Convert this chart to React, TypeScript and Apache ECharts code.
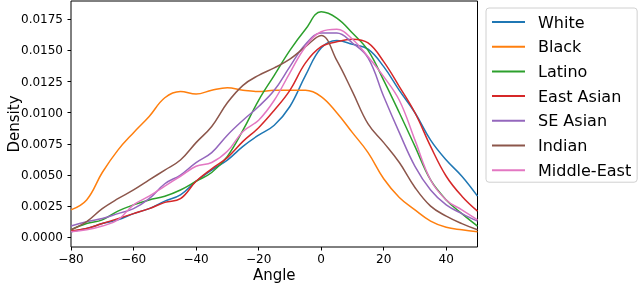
import React, { useEffect, useRef } from "react";
import * as echarts from "echarts";

const xs = [-80, -75, -70, -65, -60, -55, -50, -45, -40, -35, -30, -25, -20, -15, -10, -5, 0, 5, 10, 15, 20, 25, 30, 35, 40, 45, 50];

const white = [0.00045, 0.0007, 0.0011, 0.0014, 0.0019, 0.0023, 0.0029, 0.0034, 0.0045, 0.0054, 0.0062, 0.0073, 0.0082, 0.009, 0.0105, 0.013, 0.0152, 0.0158, 0.0155, 0.0151, 0.0137, 0.0118, 0.01, 0.0078, 0.0062, 0.0049, 0.0033];
const black = [0.0022, 0.003, 0.0052, 0.007, 0.0084, 0.0097, 0.0112, 0.0117, 0.0115, 0.0118, 0.012, 0.0118, 0.0117, 0.0118, 0.0118, 0.0118, 0.0113, 0.01, 0.0084, 0.0068, 0.0047, 0.0032, 0.0022, 0.0013, 0.0008, 0.0006, 0.00045];
const latino = [0.0006, 0.0011, 0.0014, 0.0021, 0.0026, 0.003, 0.0033, 0.0038, 0.0045, 0.0052, 0.0065, 0.0086, 0.011, 0.013, 0.015, 0.0167, 0.0181, 0.0176, 0.0164, 0.015, 0.0126, 0.01, 0.0073, 0.0046, 0.003, 0.0019, 0.0009];
const eastAsian = [0.0005, 0.0007, 0.0011, 0.0015, 0.0019, 0.0023, 0.0028, 0.0031, 0.0045, 0.0055, 0.0064, 0.0077, 0.0088, 0.0102, 0.0118, 0.014, 0.0153, 0.0157, 0.0159, 0.0156, 0.0141, 0.0121, 0.01, 0.0073, 0.0049, 0.0033, 0.0021];
const seAsian = [0.0009, 0.00125, 0.0015, 0.0019, 0.0023, 0.0031, 0.0043, 0.005, 0.006, 0.0068, 0.0082, 0.0094, 0.0105, 0.0118, 0.0137, 0.0155, 0.0164, 0.0164, 0.0156, 0.0144, 0.0113, 0.0084, 0.0057, 0.0038, 0.0026, 0.0019, 0.0013];
const indian = [0.0006, 0.00125, 0.0023, 0.0031, 0.0038, 0.0046, 0.0054, 0.0062, 0.0076, 0.0089, 0.0108, 0.0122, 0.013, 0.0136, 0.0143, 0.0153, 0.0162, 0.0142, 0.0117, 0.0091, 0.0076, 0.006, 0.004, 0.0025, 0.0017, 0.0011, 0.0006];
const middleEast = [0.00045, 0.0006, 0.0009, 0.0014, 0.0026, 0.0033, 0.0041, 0.0049, 0.0057, 0.006, 0.0069, 0.0085, 0.0094, 0.011, 0.0132, 0.0153, 0.0165, 0.0167, 0.0159, 0.0145, 0.0129, 0.011, 0.0078, 0.0046, 0.003, 0.0022, 0.0014];

const seriesNames = ["White", "Black", "Latino", "East Asian", "SE Asian", "Indian", "Middle-East"];
const seriesValues = [white, black, latino, eastAsian, seAsian, indian, middleEast];
const colors = ["#1f77b4", "#ff7f0e", "#2ca02c", "#d62728", "#9467bd", "#8c564b", "#e377c2"];

const xTicks = [-80, -60, -40, -20, 0, 20, 40];
const yTicks = [0, 0.0025, 0.005, 0.0075, 0.01, 0.0125, 0.015, 0.0175];

const FONT = "DejaVu Sans";

export default function App() {
  const ref = useRef<HTMLDivElement>(null);
  useEffect(() => {
    if (!ref.current) return;
    const chart = echarts.init(ref.current, null, { renderer: "svg" });
    chart.setOption({
      animation: false,
      color: colors,
      textStyle: { fontFamily: FONT },
      grid: {
        left: 71,
        right: 162.5,
        top: 1,
        bottom: 40,
        containLabel: false,
        outerBoundsMode: "none",
        show: true,
        borderColor: "#000",
        borderWidth: 1,
        backgroundColor: "transparent",
      },
      legend: {
        orient: "vertical",
        left: 486,
        top: 8,
        padding: [6, 6, 4, 6],
        borderColor: "#d0d0d0",
        borderWidth: 1,
        borderRadius: 3,
        itemWidth: 33,
        itemHeight: 2,
        itemGap: 8.7,
        icon: "rect",
        textStyle: { fontFamily: FONT, fontSize: 16, color: "#000", padding: [0, 0, 0, 8] },
        data: seriesNames,
      },
      xAxis: {
        type: "value",
        min: -80,
        max: 50,
        name: "Angle",
        nameLocation: "middle",
        nameGap: 20,
        nameMoveOverlap: false,
        nameTextStyle: { fontFamily: FONT, fontSize: 15, color: "#000" },
        axisLine: { show: false, onZero: false },
        axisTick: { show: true, length: 3.5, customValues: xTicks, lineStyle: { color: "#000" } },
        axisLabel: {
          customValues: xTicks,
          fontFamily: FONT,
          fontSize: 12,
          color: "#000",
          margin: 6,
          formatter: (v: number) => String(v).replace("-", "\u2212"),
        },
        splitLine: { show: false },
      },
      yAxis: {
        type: "value",
        min: -0.00078,
        max: 0.01897,
        name: "Density",
        nameLocation: "middle",
        nameGap: 50,
        nameMoveOverlap: false,
        nameTextStyle: { fontFamily: FONT, fontSize: 15, color: "#000" },
        axisLine: { show: false, onZero: false },
        axisTick: { show: true, length: 3.5, customValues: yTicks, lineStyle: { color: "#000" } },
        axisLabel: {
          customValues: yTicks,
          fontFamily: FONT,
          fontSize: 12,
          color: "#000",
          margin: 8,
          formatter: (v: number) => v.toFixed(4),
        },
        splitLine: { show: false },
      },
      series: seriesNames.map((name, i) => ({
        name,
        type: "line",
        smooth: 0.4,
        showSymbol: false,
        symbol: "none",
        lineStyle: { width: 1.5, color: colors[i] },
        itemStyle: { color: colors[i] },
        data: xs.map((x, j) => [x, seriesValues[i][j]]),
      })),
    });
    return () => chart.dispose();
  }, []);
  return <div ref={ref} style={{ width: 640, height: 287, position: "fixed", left: 0, top: 0 }} />;
}
